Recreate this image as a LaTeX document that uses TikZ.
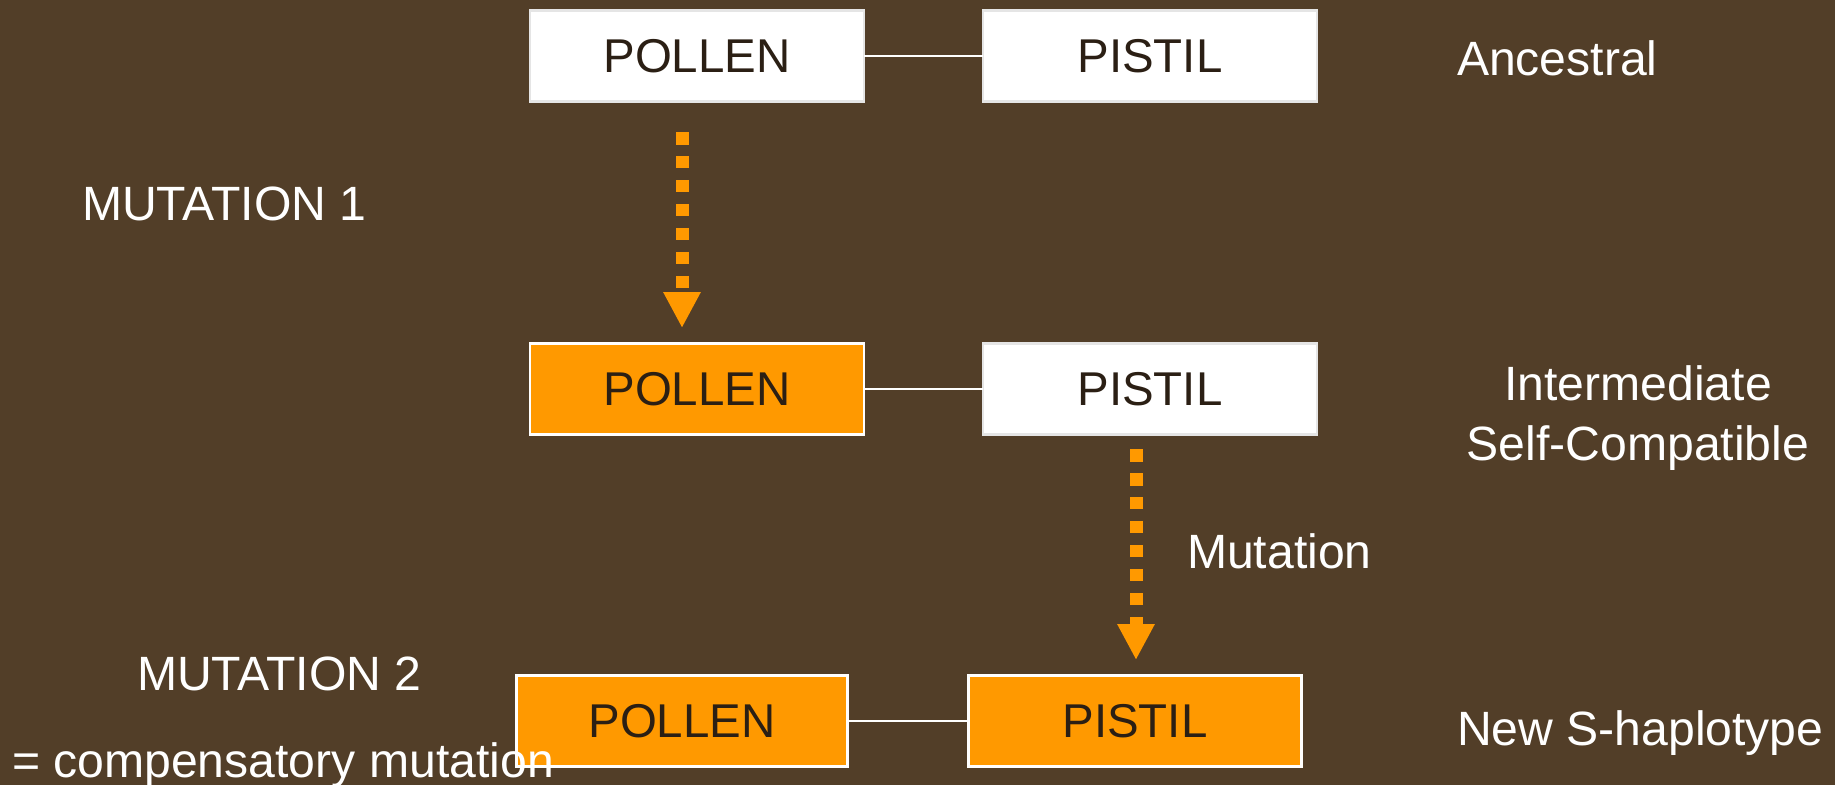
\documentclass[tikz,border=0pt]{standalone}
\usepackage{fontspec}
\setmainfont{Liberation Sans}
\usetikzlibrary{arrows.meta}
\definecolor{bgbrown}{RGB}{82,62,40}
\definecolor{boxorange}{RGB}{255,153,0}
\definecolor{inktext}{RGB}{43,31,20}
\begin{document}
\begin{tikzpicture}[x=0.02cm,y=-0.02cm,
  every node/.style={inner sep=0pt, outer sep=0pt},
  geneplain/.style={draw=white!80!gray, line width=1.5pt, fill=white,
    minimum width=334*0.02cm, minimum height=91*0.02cm,
    text=inktext, font=\fontsize{27}{32}\selectfont},
  genemut/.style={geneplain, draw=white, fill=boxorange},
  link/.style={draw=white, line width=1.2pt},
  mutarrow/.style={draw=boxorange, line width=0.26cm,
    dash pattern=on 0.25cm off 0.23cm,
    -{Triangle[length=0.72cm, width=0.7cm]}},
  lbl/.style={text=white, font=\fontsize{27.4}{34}\selectfont},
]
\fill[bgbrown] (0,0) rectangle (1835,785);
\useasboundingbox (0,0) rectangle (1835,785);

% ancestral pair
\node[geneplain] (polA) at (697,56) {POLLEN};
\node[geneplain] (pisA) at (1150,56) {PISTIL};
\draw[link] (polA.east) -- (pisA.west);

% intermediate pair
\node[genemut] (polB) at (697,389) {POLLEN};
\node[geneplain] (pisB) at (1150,389) {PISTIL};
\draw[link] (polB.east) -- (pisB.west);

% new haplotype pair
\node[genemut, minimum width=331*0.02cm] (polC) at (682,721) {POLLEN};
\node[genemut, minimum width=333*0.02cm] (pisC) at (1135,721) {PISTIL};
\draw[link] (polC.east) -- (pisC.west);

% mutation arrows
\coordinate (m1s) at (682,132);
\coordinate (m1e) at (682,328);
\draw[mutarrow] (m1s) -- (m1e);
\coordinate (m2s) at (1136,449);
\coordinate (m2e) at (1136,660);
\draw[mutarrow] (m2s) -- (m2e);

% labels
\node[lbl, anchor=base west] (anc) at (1457,75) {Ancestral};
\node[lbl, anchor=base west] (mut1) at (82,220) {MUTATION 1};
\node[lbl, align=center, anchor=center] (inter) at (1638,418)
  {Intermediate\\Self-Compatible};
\node[lbl, anchor=base west] (mutl) at (1187,568) {Mutation};
\node[lbl, anchor=base west] (mut2) at (137,690) {MUTATION 2};
\node[lbl, anchor=base west] (comp) at (12,777) {= compensatory mutation};
\node[lbl, anchor=base west] (newS) at (1457,745) {New S-haplotype};
\end{tikzpicture}
\end{document}
